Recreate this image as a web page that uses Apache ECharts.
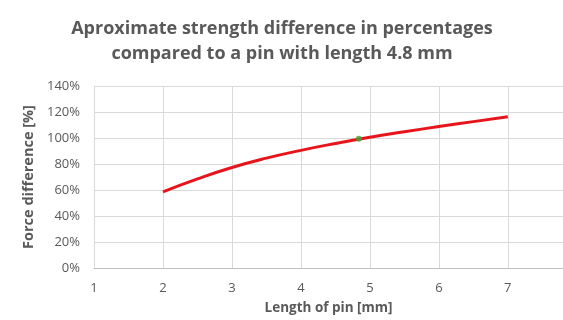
<!DOCTYPE html>
<html>
<head>
<meta charset="utf-8">
<script src="https://cdn.jsdelivr.net/npm/echarts@6/dist/echarts.min.js"></script>
<style>
  html, body { margin: 0; padding: 0; background: #fff; }
  #chart { width: 563px; height: 320px; }
</style>
</head>
<body>
<div id="chart"></div>
<script>
// values
const pinLength = [2, 2.5, 3, 3.5, 4, 4.5, 5, 5.5, 6, 6.5, 7];
const forceDiff = [58.5, 68.5, 77.3, 84.5, 90.5, 95.8, 100.6, 104.8, 108.8, 112.6, 116.4];
const refPoint = [4.84, 99.5];

const textColor = '#595959';
const font = 'Open Sans';

const chart = echarts.init(document.getElementById('chart'));

// set options for chart
const option = {
  animation: false,
  title: {
    text: 'Aproximate strength difference in percentages\ncompared to a pin with length 4.8 mm',
    left: 277,
    textAlign: 'center',
    top: 11,
    textStyle: {
      fontFamily: font,
      fontSize: 18,
      fontWeight: 'bold',
      color: textColor,
      lineHeight: 25
    }
  },
  grid: {
    left: 94,
    right: 0,
    top: 86,
    bottom: 52
  },
  xAxis: {
    type: 'value',
    min: 1,
    max: 7.8,
    interval: 1,
    name: 'Length of pin [mm]',
    nameLocation: 'middle',
    nameGap: 33,
    nameTextStyle: { fontFamily: font, fontSize: 13.5, fontWeight: 'bold', color: textColor },
    axisLine: { show: true, lineStyle: { color: '#bfbfbf', width: 1 } },
    axisTick: { show: false },
    axisLabel: { fontFamily: font, fontSize: 13, color: textColor, margin: 14, showMaxLabel: false },
    splitLine: { show: true, lineStyle: { color: '#d9d9d9', width: 1 } }
  },
  yAxis: {
    type: 'value',
    min: 0,
    max: 140,
    interval: 20,
    name: 'Force difference [%]',
    nameLocation: 'middle',
    nameGap: 53,
    nameRotate: 90,
    nameTextStyle: { fontFamily: font, fontSize: 14.5, fontWeight: 'bold', color: textColor },
    axisLine: { show: false },
    axisTick: { show: false },
    axisLabel: { fontFamily: font, fontSize: 13, color: textColor, margin: 14, formatter: '{value}%' },
    splitLine: { show: true, lineStyle: { color: '#d9d9d9', width: 1 } }
  },
  series: [
    {
      name: 'Force difference',
      type: 'line',
      smooth: true,
      showSymbol: false,
      lineStyle: { color: '#e8141b', width: 3 },
      data: pinLength.map((x, i) => [x, forceDiff[i]]),
      z: 2
    },
    {
      name: 'Reference',
      type: 'scatter',
      symbolSize: 6,
      itemStyle: { color: '#3fa535' },
      data: [refPoint],
      z: 3
    }
  ]
};

chart.setOption(option);
</script>
</body>
</html>
